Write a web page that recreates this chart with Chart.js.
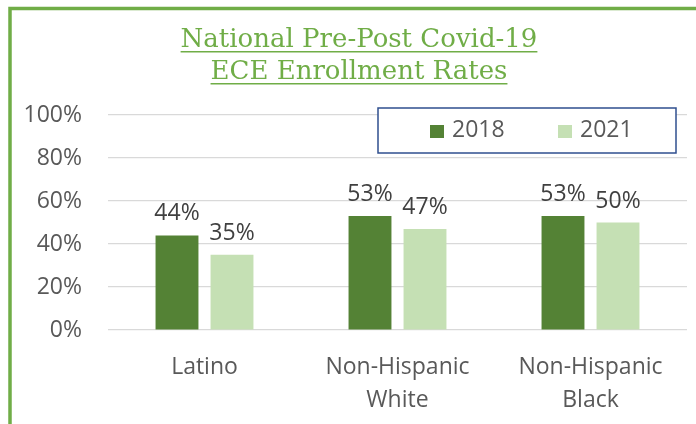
<!DOCTYPE html>
<html>
<head>
<meta charset="utf-8">
<script src="https://cdn.jsdelivr.net/npm/chart.js@4.4.1/dist/chart.umd.min.js"></script>
<style>
  html, body { margin: 0; padding: 0; background: #fff; }
  #wrap { width: 696px; height: 424px; position: relative; }
</style>
</head>
<body>
<div id="wrap"><canvas id="enrollChart" width="696" height="424"></canvas></div>
<script>
// данные
const categories = [['Latino'], ['Non-Hispanic', 'White'], ['Non-Hispanic', 'Black']];
const seriesNames = ['2018', '2021'];
const rates2018 = [0.44, 0.53, 0.53];
const rates2021 = [0.35, 0.47, 0.50];
const yTicks = [0, 0.2, 0.4, 0.6, 0.8, 1.0];
const titleLines = ['National Pre-Post Covid-19', 'ECE Enrollment Rates'];

const GREEN_DARK = '#548235';
const GREEN_LIGHT = '#C5E0B4';
const ACCENT = '#70AD47';
const LABEL_FONT = '"Open Sans", "Noto Sans", sans-serif';

// рамка + заголовок с подчёркиванием
const framePlugin = {
    id: 'frame',
    beforeDraw(chart) {
        const ctx = chart.ctx;
        ctx.save();
        ctx.fillStyle = '#fff';
        ctx.fillRect(0, 0, chart.width, chart.height);
        ctx.strokeStyle = ACCENT;
        ctx.lineWidth = 3.5;
        ctx.beginPath();
        ctx.moveTo(10, chart.height + 5);
        ctx.lineTo(10, 8.5);
        ctx.lineTo(chart.width + 5, 8.5);
        ctx.stroke();

        ctx.fillStyle = ACCENT;
        ctx.font = '26px "DejaVu Serif", "Liberation Serif", serif';
        ctx.textAlign = 'center';
        ctx.textBaseline = 'alphabetic';
        const cx = 359;
        titleLines.forEach((line, i) => {
            const y = 47 + i * 32;
            ctx.fillText(line, cx, y);
            const w = ctx.measureText(line).width;
            ctx.fillRect(cx - w / 2, y + 4, w, 1.5);
        });
        ctx.restore();
    }
};

// подписи значений над столбцами
const valueLabels = {
    id: 'valueLabels',
    afterDatasetsDraw(chart) {
        const ctx = chart.ctx;
        ctx.save();
        ctx.fillStyle = '#404040';
        ctx.font = '23px ' + LABEL_FONT;
        ctx.textAlign = 'center';
        ctx.textBaseline = 'alphabetic';
        chart.data.datasets.forEach((ds, di) => {
            chart.getDatasetMeta(di).data.forEach((bar, i) => {
                ctx.fillText(Math.round(ds.data[i] * 100) + '%', bar.x, bar.y - 15);
            });
        });
        ctx.restore();
    }
};

// легенда в рамке поверх области графика
const boxLegend = {
    id: 'boxLegend',
    afterDraw(chart) {
        const ctx = chart.ctx;
        const x0 = 378, y0 = 108, w = 298, h = 45;
        ctx.save();
        ctx.fillStyle = '#fff';
        ctx.fillRect(x0, y0, w, h);
        ctx.strokeStyle = '#2F4F8F';
        ctx.lineWidth = 1.5;
        ctx.strokeRect(x0, y0, w, h);
        ctx.font = '23px ' + LABEL_FONT;
        ctx.textBaseline = 'middle';
        ctx.textAlign = 'left';
        const starts = [430, 558];
        chart.data.datasets.forEach((ds, i) => {
            ctx.fillStyle = ds.backgroundColor;
            ctx.fillRect(starts[i], y0 + 17, 14, 13);
            ctx.fillStyle = '#595959';
            ctx.fillText(ds.label, starts[i] + 22, y0 + h / 2);
        });
        ctx.restore();
    }
};

new Chart(document.getElementById('enrollChart').getContext('2d'), {
    type: 'bar',
    data: {
        labels: categories,
        datasets: [
            { label: seriesNames[0], data: rates2018, backgroundColor: GREEN_DARK },
            { label: seriesNames[1], data: rates2021, backgroundColor: GREEN_LIGHT }
        ]
    },
    options: {
        responsive: false,
        animation: false,
        devicePixelRatio: 1,
        layout: { padding: { top: 115, right: 9, left: 0, bottom: 0 } },
        datasets: {
            bar: { categoryPercentage: 0.57, barPercentage: 0.78 }
        },
        plugins: {
            legend: { display: false },
            title: { display: false },
            tooltip: { enabled: false }
        },
        scales: {
            x: {
                grid: { display: false },
                border: { display: false },
                ticks: {
                    color: '#595959',
                    font: { family: LABEL_FONT, size: 23, lineHeight: 1.43 },
                    padding: 13,
                    maxRotation: 0
                },
                afterFit(scale) { scale.height = 94; }
            },
            y: {
                min: 0,
                max: 1,
                afterBuildTicks(scale) { scale.ticks = yTicks.map(v => ({ value: v })); },
                grid: { color: '#D9D9D9', lineWidth: 1.2, drawTicks: false },
                border: { display: false },
                ticks: {
                    color: '#595959',
                    font: { family: LABEL_FONT, size: 23 },
                    padding: 26,
                    callback: v => Math.round(v * 100) + '%'
                },
                afterFit(scale) { scale.width = 108; }
            }
        }
    },
    plugins: [framePlugin, valueLabels, boxLegend]
});
</script>
</body>
</html>
